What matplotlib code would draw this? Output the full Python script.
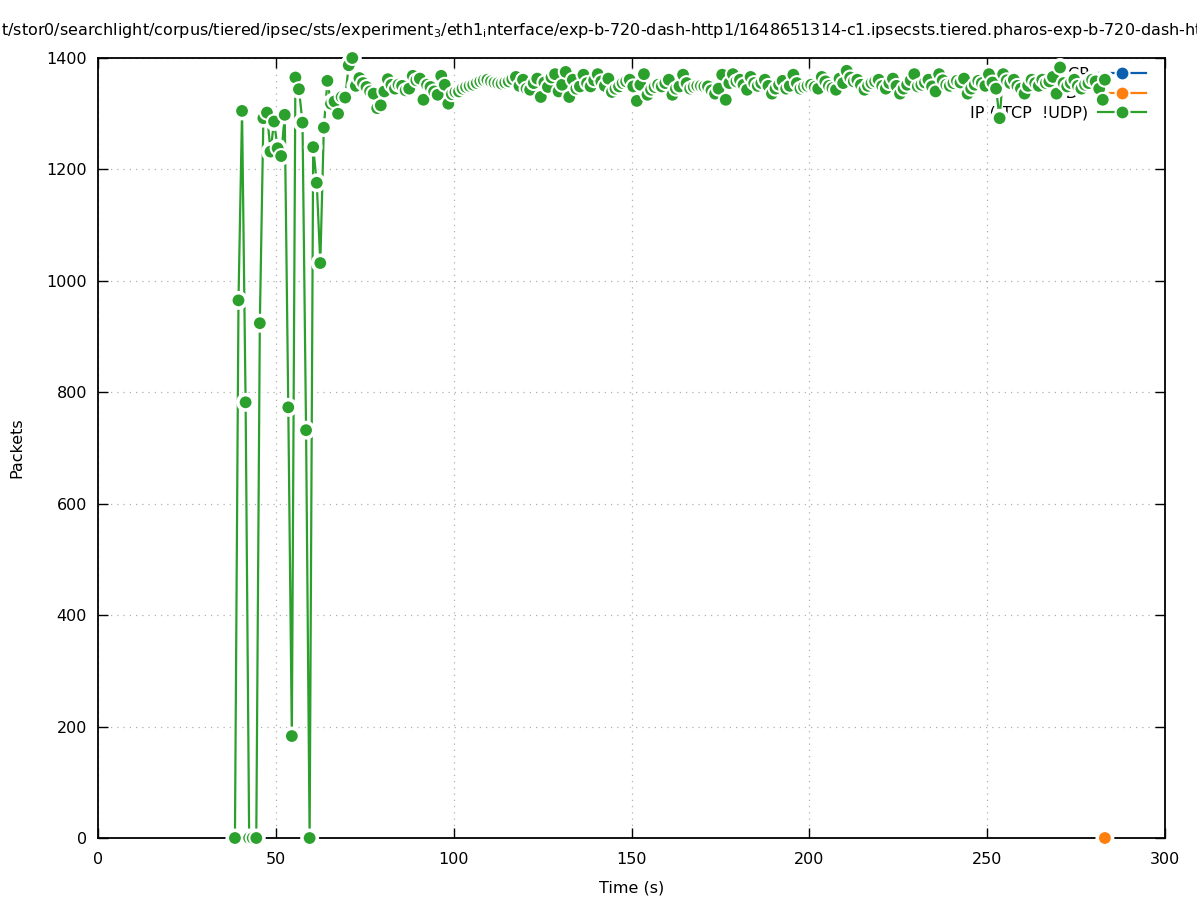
import matplotlib
matplotlib.use('Agg')
import matplotlib.pyplot as plt
import matplotlib.patheffects as pe
from matplotlib.lines import Line2D

plt.rcParams['font.family'] = ['DejaVu Sans']
plt.rcParams['font.size'] = 11.5

# ip packets per second (not tcp, not udp); one sample every second from t=38.5
ip_start = 38.5
ip_values = [
    0, 965, 1305, 782, 0, 0, 0, 924, 1292, 1302,
    1232, 1286, 1238, 1224, 1298, 773, 183, 1365, 1344, 1284,
    732, 0, 1240, 1176, 1032, 1275, 1359, 1318, 1322, 1300,
    1330, 1329, 1387, 1400, 1350, 1364, 1355, 1348, 1340, 1336,
    1310, 1315, 1340, 1362, 1352, 1345, 1352, 1350, 1342, 1345,
    1368, 1360, 1363, 1325, 1352, 1348, 1340, 1334, 1368, 1352,
    1318, 1335, 1339, 1340, 1345, 1348, 1350, 1352, 1355, 1358,
    1360, 1361, 1358, 1356, 1355, 1354, 1356, 1358, 1362, 1366,
    1350, 1361, 1345, 1343, 1355, 1363, 1330, 1356, 1348, 1365,
    1371, 1340, 1352, 1375, 1330, 1361, 1345, 1349, 1370, 1355,
    1349, 1360, 1371, 1358, 1350, 1363, 1339, 1345, 1349, 1355,
    1358, 1361, 1349, 1323, 1352, 1371, 1334, 1343, 1348, 1352,
    1349, 1355, 1361, 1334, 1345, 1349, 1370, 1355, 1345, 1348,
    1350, 1350, 1349, 1349, 1342, 1336, 1345, 1370, 1325, 1355,
    1371, 1358, 1361, 1352, 1343, 1366, 1355, 1350, 1355, 1361,
    1350, 1336, 1345, 1352, 1359, 1345, 1350, 1370, 1355, 1345,
    1348, 1350, 1352, 1348, 1345, 1366, 1358, 1350, 1346, 1343,
    1363, 1355, 1377, 1365, 1358, 1361, 1352, 1343, 1350, 1355,
    1358, 1361, 1350, 1345, 1355, 1363, 1350, 1336, 1345, 1352,
    1360, 1371, 1349, 1352, 1356, 1361, 1349, 1340, 1371, 1360,
    1352, 1350, 1355, 1359, 1356, 1363, 1336, 1345, 1352, 1359,
    1355, 1350, 1371, 1356, 1345, 1292, 1371, 1360, 1355, 1361,
    1350, 1345, 1336, 1350, 1361, 1355, 1350, 1361, 1355, 1358,
    1366, 1336, 1383, 1355, 1349, 1355, 1361, 1350, 1345, 1352,
    1355, 1361, 1358, 1345, 1325,
]
ip_last = (283.1, 1361)
ip_time = [ip_start + i for i in range(len(ip_values))] + [ip_last[0]]
ip_values = ip_values + [ip_last[1]]

tcp_time = []
tcp_values = []
udp_time = [283.1]
udp_values = [0]

labels = ['TCP', 'UDP', 'IP (!TCP  !UDP)']
colors = ['#0b5fae', '#ff7f0e', '#2ca02c']

W, H = 1197, 900
fig = plt.figure(figsize=(W / 100, H / 100), dpi=100)
ax = fig.add_axes([98 / W, 62 / H, (1165 - 98) / W, (838 - 58) / H])

halo = [pe.Stroke(linewidth=3.6, foreground='white'), pe.Normal()]
series = [(tcp_time, tcp_values), (udp_time, udp_values), (ip_time, ip_values)]
for (t, v), c in zip(series, colors):
    ax.plot(t, v, color=c, lw=1.6, marker='o', ms=10, mec='white', mew=1.5,
            path_effects=halo, clip_on=False, zorder=3)

ax.set_xlim(0, 300)
ax.set_ylim(0, 1400)
ax.set_xticks(range(0, 301, 50))
ax.set_yticks(range(0, 1401, 200))
ax.tick_params(direction='in', length=7, width=1, top=True, right=True)
ax.tick_params(axis='x', pad=10)
ax.tick_params(axis='y', pad=8)
for s in ax.spines.values():
    s.set_linewidth(1.3)
ax.grid(True, linestyle=(0, (1, 4)), color='#b0b0b0', lw=0.9)
ax.set_axisbelow(True)

ax.set_xlabel('Time (s)', labelpad=10)
ax.set_ylabel('Packets', labelpad=16)

# long file path title, wider than the figure (clipped at both sides)
title = ('/mnt/stor0/searchlight/corpus/tiered/ipsec/sts/experiment$_3$/eth1$_\\mathrm{i}$nterface/'
         'exp-b-720-dash-http1/1648651314-c1.ipsecsts.tiered.pharos-exp-b-720-dash-http1.pcap')
fig.text(621 / W, 1 - 30 / H, title, ha='center', va='center', fontsize=11.5)

# key sits under the data, as in the original
handles = [Line2D([], [], color=c, lw=1.6, marker='o', ms=10, mec='white', mew=1.5) for c in colors]
leg = ax.legend(handles, labels, loc='upper right', bbox_to_anchor=(1146 / W, 1 - 67 / H),
                bbox_transform=fig.transFigure, frameon=False, markerfirst=False,
                handlelength=3.0, borderaxespad=0, borderpad=0,
                labelspacing=0.26, handletextpad=0.6)
leg.set_zorder(1)

fig.savefig('out.png', dpi=100)
